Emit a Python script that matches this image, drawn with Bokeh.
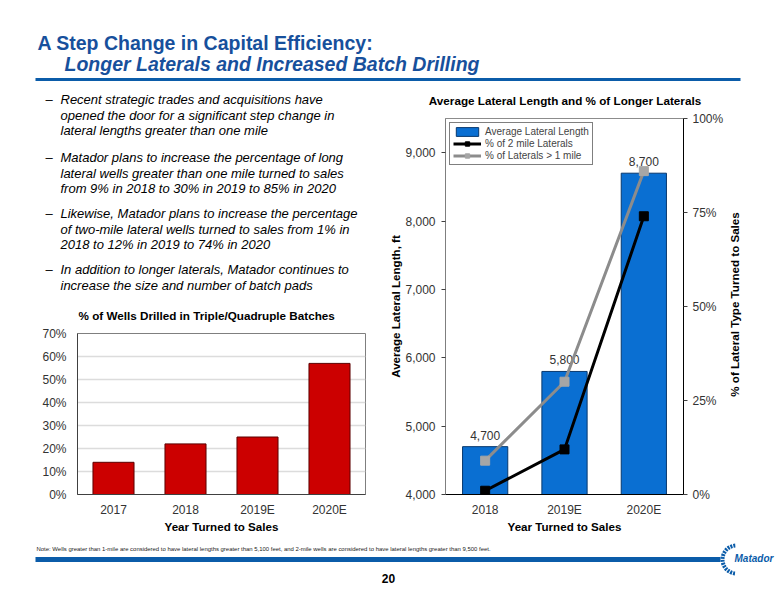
import math
from bokeh.plotting import figure
from bokeh.layouts import column, row
from bokeh.models import (Range1d, FactorRange, LinearAxis, FixedTicker, NumeralTickFormatter,
                          Legend, LegendItem, ColumnDataSource)
from bokeh.core.properties import value
from bokeh.embed import file_html
from bokeh.resources import INLINE

FONT = "Liberation Sans"
TITLE_BLUE = "#17509c"
BAND_BLUE = "#0b5ca9"
BAR_BLUE = "#0a6fd2"
BAR_BLUE_EDGE = "#07386e"
BAR_RED = "#cc0000"
BAR_RED_EDGE = "#5c0000"
TICK_GRAY = "#333333"

# ---------------- data ----------------
slide_title = "A Step Change in Capital Efficiency:"
slide_subtitle = "Longer Laterals and Increased Batch Drilling"
bullet_points = [
    ["Recent strategic trades and acquisitions have",
     "opened the door for a significant step change in",
     "lateral lengths greater than one mile"],
    ["Matador plans to increase the percentage of long",
     "lateral wells greater than one mile turned to sales",
     "from 9% in 2018 to 30% in 2019 to 85% in 2020"],
    ["Likewise, Matador plans to increase the percentage",
     "of two-mile lateral wells turned to sales from 1% in",
     "2018 to 12% in 2019 to 74% in 2020"],
    ["In addition to longer laterals, Matador continues to",
     "increase the size and number of batch pads"],
]

batch_title = "% of Wells Drilled in Triple/Quadruple Batches"
batch_years = ["2017", "2018", "2019E", "2020E"]
batch_pct = [0.14, 0.22, 0.25, 0.57]
batch_ticks = [0.0, 0.1, 0.2, 0.3, 0.4, 0.5, 0.6, 0.7]

lat_title = "Average Lateral Length and % of Longer Laterals"
lat_years = ["2018", "2019E", "2020E"]
avg_lateral_ft = [4700, 5800, 8700]
avg_lateral_labels = ["4,700", "5,800", "8,700"]
pct_two_mile = [0.01, 0.12, 0.74]
pct_over_one_mile = [0.09, 0.30, 0.86]
len_ticks = [4000, 5000, 6000, 7000, 8000, 9000]
pct_ticks = [0.0, 0.25, 0.5, 0.75, 1.0]

x_title = "Year Turned to Sales"
left_axis_title = "Average Lateral Length, ft"
right_axis_title = "% of Lateral Type Turned to Sales"
legend_labels = ["Average Lateral Length", "% of 2 mile Laterals", "% of Laterals > 1 mile"]

note_text = ("Note: Wells greater than 1-mile are considered to have lateral lengths greater than "
             "5,100 feet, and 2-mile wells are considered to have lateral lengths greater than 9,500 feet.")
page_number = "20"
logo_text = "Matador"

TITLE_SIZE = "11.7px"
AXIS_TITLE_SIZE = "11.6px"


# ---------------- helpers ----------------
def no_align(p):
    try:
        p.frame_align = False
    except Exception:
        pass
    return p


def canvas(x0, y0, w, h, flip=True):
    yr = Range1d(y0 + h, y0) if flip else Range1d(0, h)
    p = figure(width=w, height=h, x_range=Range1d(x0, x0 + w), y_range=yr,
               x_axis_type=None, y_axis_type=None, output_backend="svg",
               toolbar_location=None, min_border=0)
    p.outline_line_color = None
    p.background_fill_color = "white"
    p.border_fill_color = "white"
    return no_align(p)


def style_axis(ax, label_size="12px"):
    ax.axis_line_color = "#404040"
    ax.major_tick_line_color = "#404040"
    ax.minor_tick_line_color = None
    ax.major_tick_in = 0
    ax.major_label_text_font = FONT
    ax.major_label_text_font_size = label_size
    ax.major_label_text_color = TICK_GRAY
    ax.axis_label_text_font = FONT
    ax.axis_label_text_font_style = "bold"
    ax.axis_label_text_font_size = AXIS_TITLE_SIZE
    ax.axis_label_text_color = "#000000"


# ---------------- header ----------------
hdr = canvas(0, 0, 776, 88)
hdr.text(x=[37], y=[42], text=[slide_title], text_font=value(FONT), text_font_style="bold",
         text_font_size="19.5px", text_color=TITLE_BLUE, text_baseline="middle")
hdr.text(x=[64], y=[63], text=[slide_subtitle], text_font=value(FONT), text_font_style="bold italic",
         text_font_size="19.5px", text_color=TITLE_BLUE, text_baseline="middle")
hdr.segment(x0=[35], y0=[79], x1=[740], y1=[79], line_width=3, line_color=BAND_BLUE)

# ---------------- bullets (+ left chart title) ----------------
bul = canvas(0, 88, 380, 236)
first_y = [99, 157, 213, 269]
step = 15.5
tx, ty, tt, dx, dy = [], [], [], [], []
for gy, lines in zip(first_y, bullet_points):
    dx.append(45)
    dy.append(gy)
    for i, ln in enumerate(lines):
        tx.append(60)
        ty.append(gy + i * step)
        tt.append(ln)
bul.text(x=dx, y=dy, text=["\u2013"] * len(dx), text_font=value(FONT), text_font_size="13px",
         text_color="#000000", text_baseline="middle")
bul.text(x=tx, y=ty, text=tt, text_font=value(FONT), text_font_style="italic", text_font_size="13px",
         text_color="#000000", text_baseline="middle")
bul.text(x=[78], y=[315], text=[batch_title], text_font=value(FONT), text_font_style="bold",
         text_font_size=TITLE_SIZE, text_color="#000000", text_baseline="middle")

# ---------------- left chart: batch drilling ----------------
lp = figure(width=380, height=211, x_range=FactorRange(*batch_years), y_range=Range1d(0, 0.7),
            output_backend="svg", toolbar_location=None,
            min_border_left=77, min_border_right=15, min_border_top=9, min_border_bottom=40)
no_align(lp)
lp.outline_line_color = "#7f7f7f"
lp.xgrid.visible = False
lp.ygrid.grid_line_color = "#dcdcdc"
lp.ygrid.grid_line_width = 1.5
lp.yaxis.ticker = FixedTicker(ticks=batch_ticks)
lp.yaxis.formatter = NumeralTickFormatter(format="0%")
for ax in lp.axis:
    style_axis(ax)
lp.yaxis.major_tick_out = 0
lp.yaxis.major_label_standoff = 11
lp.xaxis.major_tick_out = 0
lp.xaxis.major_label_standoff = 8
lp.xaxis.axis_label = x_title
lp.xaxis.axis_label_standoff = 0
lsrc = ColumnDataSource(dict(year=batch_years, pct=batch_pct))
lp.vbar(x="year", top="pct", width=0.57, source=lsrc, fill_color=BAR_RED,
        line_color=BAR_RED_EDGE, line_width=1)

# ---------------- right chart: lateral length ----------------
rtitle = canvas(380, 88, 346, 22)
rtitle.text(x=[564.5], y=[100], text=[lat_title], text_font=value(FONT), text_font_style="bold",
            text_font_size=TITLE_SIZE, text_color="#000000", text_baseline="middle", text_align="center")

rp = figure(width=346, height=425, x_range=FactorRange(*lat_years), y_range=Range1d(4000, 9500),
            output_backend="svg", toolbar_location=None,
            min_border_left=65, min_border_right=42, min_border_top=8, min_border_bottom=40)
no_align(rp)
rp.extra_y_ranges = {"pct": Range1d(0, 1)}
rp.outline_line_color = "#8c8c8c"
rp.grid.visible = False
rp.yaxis.ticker = FixedTicker(ticks=len_ticks)
rp.yaxis.formatter = NumeralTickFormatter(format="0,0")
rax = LinearAxis(y_range_name="pct", ticker=FixedTicker(ticks=pct_ticks),
                 formatter=NumeralTickFormatter(format="0%"))
rp.add_layout(rax, "right")
for ax in rp.axis:
    style_axis(ax)
rp.yaxis[0].axis_line_color = "#7f7f7f"
rp.yaxis[0].major_tick_out = 4
rp.yaxis[0].major_label_standoff = 6
rp.yaxis[0].axis_label = left_axis_title
rp.yaxis[0].axis_label_standoff = 0
rax.axis_line_color = "#000000"
rax.major_tick_out = 4
rax.major_label_standoff = 5
rp.xaxis.major_tick_out = 0
rp.xaxis.major_label_standoff = 8
rp.xaxis.axis_label = x_title
rp.xaxis.axis_label_standoff = 0
rp.xaxis.axis_line_color = "#000000"

rsrc = ColumnDataSource(dict(year=lat_years, length=avg_lateral_ft, label=avg_lateral_labels,
                             two=pct_two_mile, one=pct_over_one_mile))
bars = rp.vbar(x="year", top="length", bottom=4000, width=0.57, source=rsrc,
               fill_color=BAR_BLUE, line_color=BAR_BLUE_EDGE, line_width=1)
rp.text(x="year", y="length", text="label", source=rsrc, y_offset=-7, text_align="center",
        text_baseline="bottom", text_font=value(FONT), text_font_size="12px", text_color=TICK_GRAY)
g_line = rp.line(x="year", y="one", source=rsrc, y_range_name="pct", line_color="#8c8c8c", line_width=3)
g_pts = rp.scatter(x="year", y="one", source=rsrc, y_range_name="pct", marker="square", size=9,
                   fill_color="#a6a6a6", line_color="#a6a6a6")
k_line = rp.line(x="year", y="two", source=rsrc, y_range_name="pct", line_color="#000000", line_width=3)
k_pts = rp.scatter(x="year", y="two", source=rsrc, y_range_name="pct", marker="square", size=9,
                   fill_color="#000000", line_color="#000000")
legend = Legend(items=[
    LegendItem(label=legend_labels[0], renderers=[bars]),
    LegendItem(label=legend_labels[1], renderers=[k_line, k_pts]),
    LegendItem(label=legend_labels[2], renderers=[g_line, g_pts]),
], location="top_left")
legend.margin = 4
legend.padding = 3
legend.spacing = 1
legend.glyph_width = 28
legend.glyph_height = 11
legend.label_height = 11
legend.label_standoff = 4
legend.label_text_font = FONT
legend.label_text_font_size = "10px"
legend.border_line_color = "#000000"
legend.border_line_width = 1
legend.background_fill_color = "white"
legend.background_fill_alpha = 1
rp.add_layout(legend)

# right axis title (reads bottom-to-top)
rlab = canvas(726, 88, 50, 447, flip=False)
rlab.text(x=[734], y=[447 - (304 - 88)], text=[right_axis_title], angle=math.pi / 2,
          text_align="center", text_baseline="middle", text_font=value(FONT),
          text_font_style="bold", text_font_size=AXIS_TITLE_SIZE, text_color="#000000")

# ---------------- footer ----------------
ft = canvas(0, 535, 776, 65)
ft.text(x=[36], y=[548], text=[note_text], text_font=value(FONT), text_font_size="5.95px",
        text_color="#222222", text_baseline="middle")
ft.segment(x0=[35], y0=[559], x1=[720], y1=[559], line_width=5, line_color=BAND_BLUE)
ft.text(x=[388], y=[578], text=[page_number], text_font=value(FONT), text_font_style="bold",
        text_font_size="12px", text_color="#000000", text_baseline="middle", text_align="center")
ft.arc(x=[736], y=[559], radius=14, start_angle=math.radians(95), end_angle=math.radians(265),
       line_color=BAND_BLUE, line_width=4, line_dash="2 1")
ft.text(x=[734], y=[558], text=[logo_text], text_font=value(FONT), text_font_style="bold italic",
        text_font_size="10px", text_color=BAND_BLUE, text_baseline="middle")

layout = column(hdr, row(column(bul, lp), column(rtitle, rp), rlab), ft)

with open("out.html", "w") as f:
    f.write(file_html(layout, INLINE))
